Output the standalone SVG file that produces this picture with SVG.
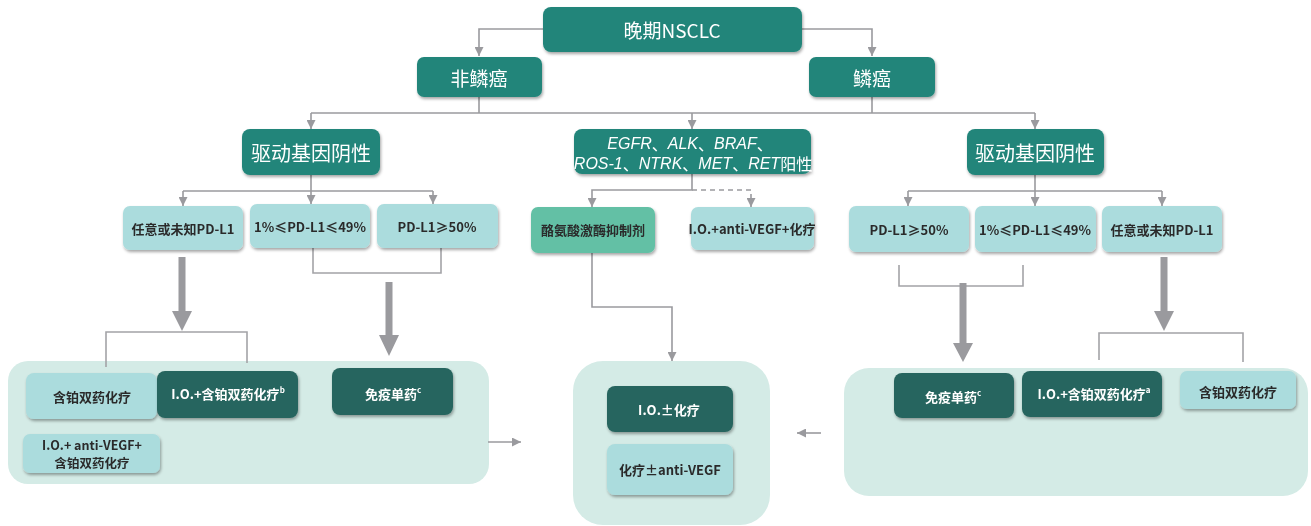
<svg xmlns="http://www.w3.org/2000/svg" width="1311" height="526" viewBox="0 0 1311 526">
<style>
  .t{font-family:"Noto Sans CJK SC","Noto Sans",sans-serif;text-anchor:middle;dominant-baseline:central}
  .w{fill:#ffffff}
  .d{fill:#2a2a2a}
  .big{font-size:19px}
  .big2{font-size:20px}
  .sm{font-size:13px;font-weight:600}
  .it{font-family:"Liberation Sans",Arial,sans-serif;font-style:italic}
  .teal{fill:#22857a}
  .dark{fill:#28655e}
  .light{fill:#abdcdd}
  .green{fill:#63c0a5}
  .panel{fill:#d4ebe6}
  .ln{fill:none;stroke:#9a9a9e;stroke-width:1.6}
  .ln2{fill:none;stroke:#a3a3a7;stroke-width:1.6}
  .dash{stroke-dasharray:5 4}
  .thick{fill:#9a9a9e}
</style>
<defs>
  <filter id="sh" x="-10%" y="-10%" width="120%" height="140%">
    <feDropShadow dx="1" dy="2" stdDeviation="1.4" flood-color="#000" flood-opacity="0.35"/>
  </filter>
  <marker id="ah" viewBox="0 0 10 10" refX="10" refY="5" markerWidth="9" markerHeight="9" markerUnits="userSpaceOnUse" orient="auto">
    <path d="M0,0 L10,5 L0,10 z" fill="#9a9a9e"/>
  </marker>
</defs>

<!-- panels -->
<g id="panel-left"><rect class="panel" x="8" y="361" width="481" height="123" rx="20"/></g>
<g id="panel-mid"><rect class="panel" x="573" y="361" width="197" height="164" rx="30"/></g>
<g id="panel-right"><rect class="panel" x="844" y="368" width="464" height="128" rx="25"/></g>

<g id="connectors">
  <path class="ln" d="M543,29 H479 V56" marker-end="url(#ah)"/>
  <path class="ln" d="M802,29 H872 V56" marker-end="url(#ah)"/>
  <path class="ln" d="M479,97 V113"/>
  <path class="ln" d="M872,97 V113"/>
  <path class="ln" d="M311,113 H1035"/>
  <path class="ln" d="M311,113 V129" marker-end="url(#ah)"/>
  <path class="ln" d="M692,113 V129" marker-end="url(#ah)"/>
  <path class="ln" d="M1035,113 V129" marker-end="url(#ah)"/>

  <path class="ln" d="M311,175 V191"/>
  <path class="ln" d="M183,191 H433"/>
  <path class="ln" d="M183,191 V206" marker-end="url(#ah)"/>
  <path class="ln" d="M311,191 V204" marker-end="url(#ah)"/>
  <path class="ln" d="M433,191 V204" marker-end="url(#ah)"/>

  <path class="ln" d="M692,174 V190 H592 V207" marker-end="url(#ah)"/>
  <path class="ln dash" d="M692,190 H751 V207" marker-end="url(#ah)"/>

  <path class="ln" d="M1035,175 V191"/>
  <path class="ln" d="M908,191 H1162"/>
  <path class="ln" d="M908,191 V206" marker-end="url(#ah)"/>
  <path class="ln" d="M1035,191 V206" marker-end="url(#ah)"/>
  <path class="ln" d="M1162,191 V206" marker-end="url(#ah)"/>

  <path class="ln2" d="M313,248 V273 H441 V248"/>
  <path class="ln2" d="M899,265 V286 H1023 V265"/>
  <path class="ln2" d="M106,367 V332 H247 V363"/>
  <path class="ln2" d="M1099,360 V333 H1243 V362"/>

  <path class="ln" d="M592,253 V307 H672 V361" marker-end="url(#ah)"/>

  <path class="ln" d="M488,442 H521" marker-end="url(#ah)"/>
  <path class="ln" d="M821,433 H797" marker-end="url(#ah)"/>

  <path class="thick" d="M178.5,257 H185.5 V311 H192 L182,331 L172,311 H178.5 Z"/>
  <path class="thick" d="M385.5,282 H392.5 V335 H399 L389,356 L379,335 H385.5 Z"/>
  <path class="thick" d="M959.5,283 H966.5 V343 H973 L963,362 L953,343 H959.5 Z"/>
  <path class="thick" d="M1160.5,257 H1167.5 V311 H1174 L1164,331 L1154,311 H1160.5 Z"/>
</g>

<g id="n-root" filter="url(#sh)"><rect class="teal" x="543" y="7" width="259" height="45" rx="8"/><text class="t w big" x="672" y="29">晚期NSCLC</text></g>
<g id="n-nonsq" filter="url(#sh)"><rect class="teal" x="417" y="57" width="125" height="40" rx="7"/><text class="t w big" x="479" y="77">非鳞癌</text></g>
<g id="n-sq" filter="url(#sh)"><rect class="teal" x="809" y="57" width="126" height="40" rx="7"/><text class="t w big" x="872" y="77">鳞癌</text></g>

<g id="n-drvneg-l" filter="url(#sh)"><rect class="teal" x="242" y="129" width="138" height="46" rx="8"/><text class="t w big2" x="311" y="152">驱动基因阴性</text></g>
<g id="n-drvpos" filter="url(#sh)"><rect class="teal" x="574" y="129" width="237" height="45" rx="8"/>
  <text class="t w" style="font-size:16px" x="690" y="143"><tspan class="it">EGFR</tspan>、<tspan class="it">ALK</tspan>、<tspan class="it">BRAF</tspan>、</text>
  <text class="t w" style="font-size:16px" x="693" y="163"><tspan class="it">ROS-1</tspan>、<tspan class="it">NTRK</tspan>、<tspan class="it">MET</tspan>、<tspan class="it">RET</tspan>阳性</text>
</g>
<g id="n-drvneg-r" filter="url(#sh)"><rect class="teal" x="967" y="129" width="137" height="46" rx="8"/><text class="t w big2" x="1035" y="152">驱动基因阴性</text></g>

<g id="n-l-any" filter="url(#sh)"><rect class="light" x="123" y="206" width="120" height="44" rx="7"/><text class="t d sm" x="183" y="228">任意或未知PD-L1</text></g>
<g id="n-l-mid" filter="url(#sh)"><rect class="light" x="250" y="204" width="120" height="44" rx="7"/><text class="t d sm" x="310" y="226">1%≤PD-L1≤49%</text></g>
<g id="n-l-high" filter="url(#sh)"><rect class="light" x="377" y="204" width="121" height="44" rx="7"/><text class="t d sm" x="437" y="226">PD-L1≥50%</text></g>

<g id="n-tki" filter="url(#sh)"><rect class="green" x="531" y="207" width="124" height="46" rx="7"/><text class="t d sm" x="593" y="229">酪氨酸激酶抑制剂</text></g>
<g id="n-iovegf" filter="url(#sh)"><rect class="light" x="691" y="207" width="123" height="43" rx="7"/><text class="t d sm" x="752" y="228">I.O.+anti-VEGF+化疗</text></g>

<g id="n-r-high" filter="url(#sh)"><rect class="light" x="849" y="206" width="120" height="46" rx="7"/><text class="t d sm" x="909" y="229">PD-L1≥50%</text></g>
<g id="n-r-mid" filter="url(#sh)"><rect class="light" x="975" y="206" width="121" height="46" rx="7"/><text class="t d sm" x="1035" y="229">1%≤PD-L1≤49%</text></g>
<g id="n-r-any" filter="url(#sh)"><rect class="light" x="1102" y="206" width="120" height="46" rx="7"/><text class="t d sm" x="1162" y="229">任意或未知PD-L1</text></g>

<g id="n-l-chemo" filter="url(#sh)"><rect class="light" x="26" y="373" width="131" height="46" rx="8"/><text class="t d sm" x="92" y="396">含铂双药化疗</text></g>
<g id="n-l-iochemo" filter="url(#sh)"><rect class="dark" x="157" y="371" width="141" height="47" rx="8"/><text class="t w sm" x="228" y="393">I.O.+含铂双药化疗<tspan style="font-size:8px" dy="-4">b</tspan></text></g>
<g id="n-l-mono" filter="url(#sh)"><rect class="dark" x="332" y="368" width="121" height="47" rx="8"/><text class="t w sm" x="393" y="393">免疫单药<tspan style="font-size:8px" dy="-4">c</tspan></text></g>
<g id="n-l-iovegfchemo" filter="url(#sh)"><rect class="light" x="23" y="434" width="137" height="39" rx="7"/><text class="t d sm" style="font-size:12.5px" x="92" y="444.5">I.O.+ anti-VEGF+</text><text class="t d sm" style="font-size:12.5px" x="92" y="462.5">含铂双药化疗</text></g>

<g id="n-m-iochemo" filter="url(#sh)"><rect class="dark" x="607" y="386" width="126" height="46" rx="8"/><text class="t w sm" x="669" y="409">I.O.±化疗</text></g>
<g id="n-m-chemovegf" filter="url(#sh)"><rect class="light" x="607" y="444" width="126" height="51" rx="8"/><text class="t d sm" x="670" y="469">化疗±anti-VEGF</text></g>

<g id="n-r-mono" filter="url(#sh)"><rect class="dark" x="894" y="373" width="120" height="45" rx="8"/><text class="t w sm" x="953" y="396">免疫单药<tspan style="font-size:8px" dy="-4">c</tspan></text></g>
<g id="n-r-iochemo" filter="url(#sh)"><rect class="dark" x="1022" y="371" width="140" height="46" rx="8"/><text class="t w sm" x="1094" y="393">I.O.+含铂双药化疗<tspan style="font-size:8px" dy="-4">a</tspan></text></g>
<g id="n-r-chemo" filter="url(#sh)"><rect class="light" x="1180" y="371" width="116" height="38" rx="7"/><text class="t d sm" x="1238" y="391">含铂双药化疗</text></g>
</svg>
